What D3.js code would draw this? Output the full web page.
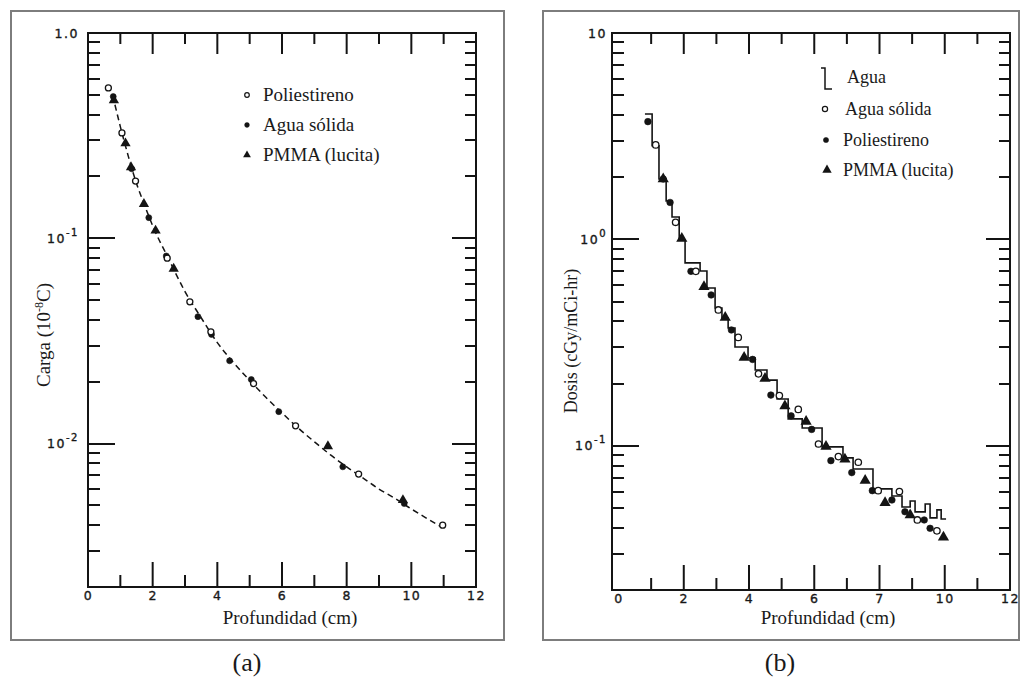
<!DOCTYPE html>
<html>
<head>
<meta charset="utf-8">
<title>Carga y dosis vs profundidad</title>
<script src="https://cdnjs.cloudflare.com/ajax/libs/d3/7.8.5/d3.min.js"></script>
<style>
body { margin: 0; background: #fff; }
.serif { font-family: "Liberation Serif", "Times New Roman", serif; fill: #1a1a1a; }
.num { font-family: "DejaVu Sans", sans-serif; fill: #1a1a1a; }
</style>
</head>
<body>
<div id="chart"></div>
<script>

/* ---------- (a) carga vs profundidad ---------- */
var a_poliestireno = [[0.63,0.54],[1.05,0.326],[1.47,0.19],[2.45,0.080],[3.15,0.049],[3.80,0.035],
                      [5.12,0.0196],[6.42,0.0122],[8.37,0.0071],[10.97,0.0040]];
var a_aguaSolida   = [[0.78,0.49],[1.35,0.218],[1.88,0.126],[2.42,0.082],[3.40,0.0415],[3.82,0.034],
                      [4.38,0.0253],[5.05,0.0205],[5.90,0.0143],[7.88,0.0077],[9.78,0.0051]];
var a_pmma         = [[0.80,0.47],[1.16,0.29],[1.33,0.222],[1.73,0.147],[2.09,0.109],[2.65,0.071],
                      [7.42,0.0097],[9.74,0.0053]];
var a_curva        = [[0.76,0.50],[1.0,0.35],[1.25,0.25],[1.5,0.185],[1.75,0.145],[2.0,0.115],[2.5,0.079],
                      [3.0,0.055],[3.5,0.041],[4.0,0.031],[4.5,0.0248],[5.0,0.0203],[5.5,0.0168],
                      [6.0,0.0141],[6.5,0.0119],[7.0,0.0102],[7.5,0.0088],[8.0,0.0077],[8.5,0.0068],
                      [9.0,0.0060],[9.5,0.0054],[10.0,0.0048],[10.5,0.0043],[10.95,0.0039]];

var a_xTicks  = [0,2,4,6,8,10,12];
var a_xLabels = ["0","2","4","6","8","10","12"];
var a_yTicks  = [1, 0.1, 0.01];
var a_yLabels = [["1.0",""],["10","-1"],["10","-2"]];
var a_legend  = ["Poliestireno","Agua sólida","PMMA (lucita)"];

/* ---------- (b) dosis vs profundidad ---------- */
// histograma (Monte Carlo) en agua: inicio de cada escalón
var b_agua = [[0.81,4.05],[1.03,2.84],[1.24,1.96],[1.46,1.535],[1.64,1.284],[1.86,0.993],[2.04,0.769],
              [2.50,0.703],[2.71,0.581],[2.96,0.465],[3.17,0.416],[3.36,0.372],[3.57,0.301],[3.97,0.266],
              [4.19,0.233],[4.55,0.208],[4.86,0.1685],[5.20,0.1349],[5.63,0.122],[6.24,0.0987],
              [6.88,0.0873],[7.19,0.0772],[7.80,0.0618],[8.38,0.0571],[8.69,0.0505],[8.94,0.0540],
              [9.09,0.0478],[9.40,0.0522],[9.55,0.0447],[9.76,0.0489],[9.89,0.0442],[10.04,0.0442]];
var b_aguaSolida   = [[1.14,2.87],[1.75,1.21],[2.37,0.70],[3.06,0.455],[3.67,0.335],[4.29,0.223],
                      [4.93,0.175],[5.51,0.150],[6.13,0.102],[6.74,0.0886],[7.35,0.0832],[7.96,0.0606],
                      [8.61,0.0600],[9.16,0.0437],[9.76,0.0387]];
var b_poliestireno = [[0.90,3.72],[1.37,1.96],[1.58,1.51],[2.22,0.70],[2.84,0.538],[3.46,0.364],
                      [4.11,0.262],[4.67,0.176],[5.29,0.1395],[5.92,0.120],[6.51,0.0847],[7.15,0.0741],
                      [7.78,0.0606],[8.38,0.0546],[8.78,0.0479],[9.37,0.0437],[9.55,0.0398]];
var b_pmma         = [[1.37,1.96],[1.94,1.01],[2.62,0.590],[3.27,0.418],[3.85,0.268],[4.49,0.212],
                      [5.10,0.156],[5.75,0.131],[6.36,0.0992],[6.94,0.0860],[7.56,0.0678],[8.17,0.0530],
                      [8.94,0.0462],[9.96,0.0360]];

var b_xTicks  = [0,2,4,6,8,10,12];
var b_xLabels = ["0","2","4","6","7","10","12"];
var b_yTicks  = [10, 1, 0.1];
var b_yLabels = [["10",""],["10","0"],["10","-1"]];
var b_legend  = ["Agua","Agua sólida","Poliestireno","PMMA (lucita)"];

// marcas del eje x (cm), menores y mayores
var cmMinor = [1, 3, 5, 7, 9, 11];
var cmMajor = [2, 4, 6, 8, 10];

/* ---------- dibujo ---------- */
var W = 1021, H = 679;
var ink = "#141414";

var svg = d3.select("#chart").append("svg")
    .attr("width", W).attr("height", H);

function minorTicks(dom) {
  var out = [];
  for (var e = -4; e <= 2; e++) {
    for (var m = 2; m <= 9; m++) {
      var v = m * Math.pow(10, e);
      if (v > dom[0] * 1.001 && v < dom[1] * 0.999) out.push(v);
    }
  }
  return out;
}
function majorTicks(dom) {
  var out = [];
  for (var e = -4; e <= 2; e++) {
    var v = Math.pow(10, e);
    if (v > dom[0] * 1.001 && v < dom[1] * 0.999) out.push(v);
  }
  return out;
}

function yTickPath(g, vals, sy, base, len) {
  var d = vals.map(function(v) {
    return "M" + base + "," + Math.round(sy(v)) + "h" + len;
  }).join("");
  g.append("path").attr("d", d).attr("fill", "none")
    .attr("stroke", ink).attr("stroke-width", 2);
}

function panel(c) {
  var g = svg.append("g");
  g.append("rect")
    .attr("x", c.box[0]).attr("y", c.box[1]).attr("width", c.box[2]).attr("height", c.box[3])
    .attr("fill", "#fff").attr("stroke", "#7d7d7d").attr("stroke-width", 2);

  var x = d3.scaleLinear().domain(c.xDomain).range([c.left, c.right]);
  var y = d3.scaleLog().domain(c.yDomain).range([c.bottom, c.top]);
  var x0 = x(c.xDomain[0]), x1 = x(c.xDomain[1]);
  var y0 = y(c.yDomain[0]), y1 = y(c.yDomain[1]);

  g.append("path")
    .attr("d", "M" + x0 + "," + y1 + "H" + x1 + "V" + y0 + "H" + x0 + "Z")
    .attr("fill", "none").attr("stroke", ink).attr("stroke-width", 2);

  var mn = minorTicks(c.yDomain), mj = majorTicks(c.yDomain);
  yTickPath(g, mn, y, x0, 12);
  yTickPath(g, mj, y, x0, 27);
  yTickPath(g, mn, y, x1, -11);
  yTickPath(g, mj, y, x1, -24);

  // etiquetas de los ejes
  var xl = g.append("g").attr("transform", "translate(0," + y0 + ")")
    .call(d3.axisBottom(x).tickValues(c.xTicks).tickSize(0).tickPadding(4)
      .tickFormat(function(d, i) { return c.xLabels[i]; }));
  xl.select(".domain").remove();
  xl.attr("font-size", 12.5).attr("color", ink)
    .selectAll("text").attr("class", "num").attr("letter-spacing", 1.5)
    .attr("stroke", ink).attr("stroke-width", 0.35);

  var yl = g.append("g").attr("transform", "translate(" + x0 + ",0)")
    .call(d3.axisLeft(y).tickValues(c.yTicks).tickSize(0).tickPadding(c.yPad)
      .tickFormat(function() { return ""; }));
  yl.select(".domain").remove();
  yl.attr("font-size", 12.5).attr("color", ink);
  yl.selectAll(".tick text").each(function(d, i) {
    var t = d3.select(this).attr("class", "num").attr("letter-spacing", 1.5)
      .attr("stroke", ink).attr("stroke-width", 0.35);
    var lab = c.yLabels[i];
    t.append("tspan").text(lab[0]);
    if (lab[1]) t.append("tspan").attr("dy", -7).attr("font-size", 10).text(lab[1]);
  });

  // títulos
  g.append("text").attr("class", "serif").attr("x", c.xTitle[0]).attr("y", c.xTitle[1])
    .attr("text-anchor", "middle").attr("font-size", 19).text("Profundidad (cm)");
  var yt = g.append("text").attr("class", "serif")
    .attr("transform", "translate(" + c.yTitle[0] + "," + c.yTitle[1] + ") rotate(-90)")
    .attr("text-anchor", "middle").attr("font-size", c.yTitleSize);
  c.yTitleParts.forEach(function(p) {
    yt.append("tspan").attr("dy", p[1]).attr("font-size", p[2] || null).text(p[0]);
  });
  g.append("text").attr("class", "serif").attr("x", c.caption[0]).attr("y", c.caption[1])
    .attr("text-anchor", "middle").attr("font-size", 26).text(c.captionText);

  return { g: g, x: x, y: y, y0: y0, y1: y1 };
}

// marcas verticales del eje x, dibujadas al final encima de todo
function xTicks(p) {
  var layer = svg.append("g").attr("class", "xticks");
  [[cmMinor, p.y0, -12], [cmMajor, p.y0, -25], [cmMinor, p.y1, 11], [cmMajor, p.y1, 21]]
    .forEach(function(s) {
      layer.append("g").selectAll("line").data(s[0]).join("line")
        .attr("x1", function(d) { return p.x(d); })
        .attr("x2", function(d) { return p.x(d); })
        .attr("y1", s[1])
        .attr("y2", s[1] + s[2])
        .style("stroke", ink)
        .style("stroke-width", "2px");
    });
}

function marks(p, data, kind, r) {
  var sel = p.g.append("g").selectAll("path").data(data).enter();
  if (kind === "tri") {
    sel.append("path")
      .attr("d", d3.symbol(d3.symbolTriangle).size(r * r * 4.2))
      .attr("transform", function(d) { return "translate(" + p.x(d[0]) + "," + p.y(d[1]) + ")"; })
      .attr("fill", ink);
  } else {
    sel.append("circle")
      .attr("cx", function(d) { return p.x(d[0]); })
      .attr("cy", function(d) { return p.y(d[1]); })
      .attr("r", r)
      .attr("fill", kind === "open" ? "#fff" : ink)
      .attr("stroke", ink).attr("stroke-width", kind === "open" ? 1.3 : 0.6);
  }
}

function legendRow(g, kind, px, py, tx, ty, text, r, size) {
  if (kind === "tri") {
    g.append("path").attr("d", d3.symbol(d3.symbolTriangle).size(r * r * 4.2))
      .attr("transform", "translate(" + px + "," + py + ")").attr("fill", ink);
  } else if (kind === "step") {
    g.append("path").attr("d", "M" + (px - 4) + "," + (py - 10) + "H" + px + "V" + (py + 11) + "H" + (px + 7))
      .attr("fill", "none").attr("stroke", ink).attr("stroke-width", 1.5);
  } else {
    g.append("circle").attr("cx", px).attr("cy", py).attr("r", r)
      .attr("fill", kind === "open" ? "#fff" : ink)
      .attr("stroke", ink).attr("stroke-width", kind === "open" ? 1.2 : 0.5);
  }
  g.append("text").attr("class", "serif").attr("x", tx).attr("y", ty).attr("font-size", size).text(text);
}

/* panel (a) */
var pa = panel({
  box: [11, 11, 493, 629], left: 88, right: 476, top: 33, bottom: 587,
  xDomain: [0, 12], yDomain: [0.002, 1],
  xTicks: a_xTicks, xLabels: a_xLabels, yTicks: a_yTicks, yLabels: a_yLabels, yPad: 9,
  xTitle: [290, 624], yTitle: [50, 335], yTitleSize: 19,
  yTitleParts: [["Carga (10", 0], ["-8", -7, 12], ["C)", 7]],
  caption: [247, 671], captionText: "(a)"
});

pa.g.append("path").datum(a_curva)
  .attr("d", d3.line().x(function(d) { return pa.x(d[0]); }).y(function(d) { return pa.y(d[1]); })
    .curve(d3.curveMonotoneX))
  .attr("fill", "none").attr("stroke", ink).attr("stroke-width", 1.5)
  .attr("stroke-dasharray", "6,4");

marks(pa, a_aguaSolida, "fill", 3);
marks(pa, a_pmma, "tri", 3.3);
marks(pa, a_poliestireno, "open", 3);

legendRow(pa.g, "open", 247, 95, 263, 101, a_legend[0], 2.3, 19);
legendRow(pa.g, "fill", 247, 125, 263, 131, a_legend[1], 2.4, 19);
legendRow(pa.g, "tri", 247, 155, 263, 161, a_legend[2], 2.5, 19);

/* panel (b) */
var pb = panel({
  box: [543, 11, 476, 629], left: 612, right: 1010, top: 33, bottom: 590,
  xDomain: [-0.2, 12], yDomain: [0.02, 10],
  xTicks: b_xTicks, xLabels: b_xLabels, yTicks: b_yTicks, yLabels: b_yLabels, yPad: 5,
  xTitle: [828, 624], yTitle: [577, 341], yTitleSize: 18,
  yTitleParts: [["Dosis (cGy/mCi-hr)", 0]],
  caption: [780, 671], captionText: "(b)"
});

pb.g.append("path").datum(b_agua)
  .attr("d", d3.line().x(function(d) { return pb.x(d[0]); }).y(function(d) { return pb.y(d[1]); })
    .curve(d3.curveStepAfter))
  .attr("fill", "none").attr("stroke", ink).attr("stroke-width", 1.6);

marks(pb, b_poliestireno, "fill", 3.3);
marks(pb, b_pmma, "tri", 3.6);
marks(pb, b_aguaSolida, "open", 3.2);

legendRow(pb.g, "step", 825, 78, 847, 83, b_legend[0], 0, 18);
legendRow(pb.g, "open", 825, 109, 845, 115, b_legend[1], 2.6, 18);
legendRow(pb.g, "fill", 826, 140, 843, 146, b_legend[2], 2.6, 18);
legendRow(pb.g, "tri", 827, 170, 843, 176, b_legend[3], 3, 18);

xTicks(pa);
xTicks(pb);

</script>
</body>
</html>
